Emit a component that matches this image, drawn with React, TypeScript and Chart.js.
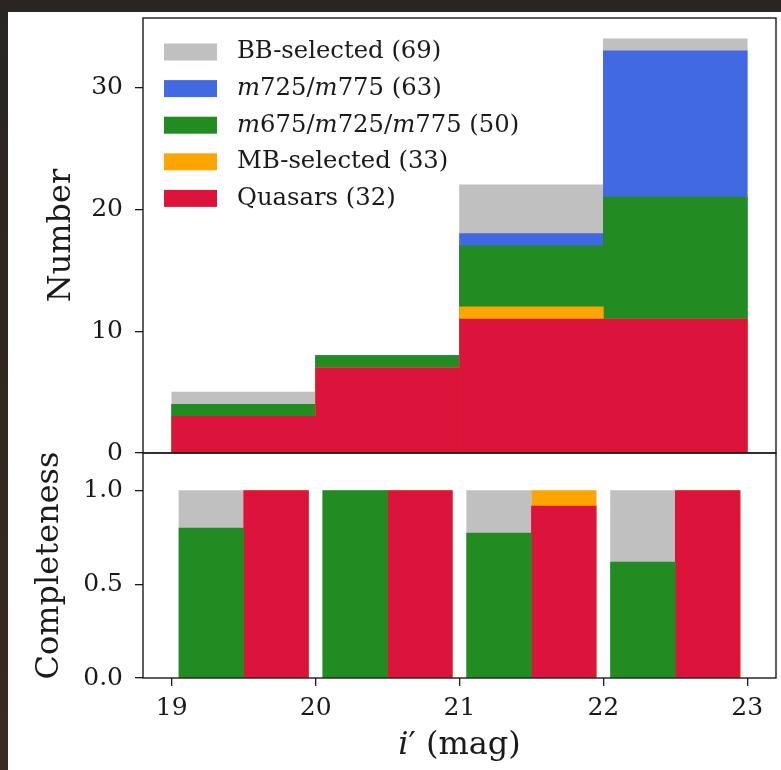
import React, { useEffect, useRef } from "react";
import { Chart, registerables } from "chart.js";

Chart.register(...registerables);

// Magnitude bins (lower edges, width 1 mag)
const binStarts = [19, 20, 21, 22];

// Counts per bin for each selection
const bbSelected = [5, 8, 22, 34];
const m725m775 = [4, 8, 18, 33];
const m675m725m775 = [4, 8, 17, 21];
const mbSelected = [3, 7, 12, 11];
const quasars = [3, 7, 11, 11];

// Completeness per bin
const bbCompleteness = [1, 1, 1, 1];
const colourCompleteness = [0.8, 1.0, 0.773, 0.618];
const mbCompleteness = [1, 1, 1, 1];
const quasarCompleteness = [1, 1, 0.917, 1];

// Axis ticks
const countTicks = [0, 10, 20, 30];
const completenessTicks = [0, 0.5, 1.0];
const magTicks = [19, 20, 21, 22, 23];

const SILVER = "#c0c0c0";
const ROYAL = "#4169e1";
const FOREST = "#228b22";
const ORANGE = "#ffa500";
const CRIMSON = "#dc143c";

const SERIF = "'DejaVu Serif', serif";
const INK = "#1a1a1a";
const TICK_SIZE = 25;
const TITLE_SIZE = 32;
const LEGEND_SIZE = 24.3;

const sum = (a: number[]) => a.reduce((s, v) => s + v, 0);

// Splits a label so that letters inside $...$ are set in italic (mathtext style)
function richPieces(text: string) {
  const parts = text.split("$");
  const pieces: { t: string; italic: boolean }[] = [];
  parts.forEach((p, i) => {
    if (i % 2 === 0) {
      if (p) pieces.push({ t: p, italic: false });
    } else {
      for (const ch of p) {
        const italic = /[A-Za-z]/.test(ch);
        const last = pieces[pieces.length - 1];
        if (last && last.italic === italic) last.t += ch;
        else pieces.push({ t: ch, italic });
      }
    }
  });
  return pieces;
}

function drawRich(
  ctx: CanvasRenderingContext2D,
  text: string,
  x: number,
  y: number,
  size: number,
  align: "left" | "center"
) {
  const pieces = richPieces(text);
  const fontFor = (it: boolean) => `${it ? "italic " : ""}${size}px ${SERIF}`;
  let total = 0;
  for (const p of pieces) {
    ctx.font = fontFor(p.italic);
    total += ctx.measureText(p.t).width;
  }
  let cx = align === "center" ? x - total / 2 : x;
  ctx.textAlign = "left";
  ctx.textBaseline = "middle";
  for (const p of pieces) {
    ctx.font = fontFor(p.italic);
    ctx.fillText(p.t, cx, y);
    cx += ctx.measureText(p.t).width;
  }
}

const framePlugin = {
  id: "frame",
  afterDatasetsDraw(chart: any) {
    const { ctx, chartArea: a } = chart;
    ctx.save();
    ctx.strokeStyle = INK;
    ctx.lineWidth = 1.4;
    ctx.strokeRect(a.left, a.top, a.right - a.left, a.bottom - a.top);
    ctx.restore();
  },
};

const legendPlugin = {
  id: "richLegend",
  afterDraw(chart: any) {
    const { ctx, chartArea: a } = chart;
    ctx.save();
    chart.data.datasets.forEach((ds: any, i: number) => {
      const cy = a.top + 34 + i * 36.6;
      ctx.fillStyle = ds.backgroundColor;
      ctx.fillRect(a.left + 21, cy - 8.5, 53, 17);
      ctx.fillStyle = INK;
      drawRich(ctx, ds.label, a.left + 94, cy, LEGEND_SIZE, "left");
    });
    ctx.restore();
  },
};

const xTitlePlugin = {
  id: "xTitle",
  afterDraw(chart: any) {
    const { ctx, chartArea: a } = chart;
    ctx.save();
    ctx.fillStyle = INK;
    drawRich(ctx, "$i$′ (mag)", (a.left + a.right) / 2, a.bottom + 68, TITLE_SIZE, "center");
    ctx.restore();
  },
};

const tickGrid = {
  drawOnChartArea: false,
  drawTicks: true,
  offset: false,
  tickLength: 8,
  color: INK,
  lineWidth: 1.3,
};

const fixWidth = (s: any) => {
  s.width = 143;
  s.paddingTop = 0;
  s.paddingBottom = 0;
};

const histSeries = [
  { name: "BB-selected", values: bbSelected, color: SILVER },
  { name: "$m725/m775$", values: m725m775, color: ROYAL },
  { name: "$m675/m725/m775$", values: m675m725m775, color: FOREST },
  { name: "MB-selected", values: mbSelected, color: ORANGE },
  { name: "Quasars", values: quasars, color: CRIMSON },
];

export default function App() {
  const topRef = useRef<HTMLCanvasElement>(null);
  const botRef = useRef<HTMLCanvasElement>(null);

  useEffect(() => {
    const top = new Chart(topRef.current!, {
      type: "bar",
      data: {
        datasets: histSeries.map((s, k) => ({
          label: `${s.name} (${sum(s.values)})`,
          data: binStarts.map((b, i) => ({ x: b + 0.5, y: s.values[i] })),
          backgroundColor: s.color,
          borderWidth: 0,
          grouped: false,
          barPercentage: 1,
          categoryPercentage: 1,
          order: histSeries.length - k,
        })),
      } as any,
      options: {
        animation: false,
        responsive: false,
        layout: { padding: { top: 18, right: 5, bottom: 7, left: 0 } },
        plugins: { legend: { display: false }, tooltip: { enabled: false } },
        scales: {
          x: {
            type: "linear",
            min: 18.8,
            max: 23.2,
            offset: false,
            display: false,
            afterBuildTicks: (s: any) => {
              s.ticks = magTicks.map((v) => ({ value: v }));
            },
          },
          y: {
            min: 0,
            max: 35.7,
            afterBuildTicks: (s: any) => {
              s.ticks = countTicks.map((v) => ({ value: v }));
            },
            afterFit: fixWidth,
            border: { display: false },
            grid: tickGrid,
            ticks: {
              font: { family: SERIF, size: TICK_SIZE },
              color: INK,
              padding: 12,
            },
            title: {
              display: true,
              text: "Number",
              font: { family: SERIF, size: TITLE_SIZE },
              color: INK,
              padding: { top: 42, bottom: 0 },
            },
          },
        },
      } as any,
      plugins: [framePlugin, legendPlugin],
    });

    const compSeries = [
      { values: colourCompleteness, color: FOREST, offset: 0.275, order: 1 },
      { values: bbCompleteness, color: SILVER, offset: 0.275, order: 2 },
      { values: quasarCompleteness, color: CRIMSON, offset: 0.725, order: 1 },
      { values: mbCompleteness, color: ORANGE, offset: 0.725, order: 2 },
    ];

    const bottom = new Chart(botRef.current!, {
      type: "bar",
      data: {
        datasets: compSeries.map((s) => ({
          data: binStarts.map((b, i) => ({ x: b + s.offset, y: s.values[i] })),
          backgroundColor: s.color,
          borderWidth: 0,
          grouped: false,
          barPercentage: 1,
          categoryPercentage: 1,
          order: s.order,
        })),
      } as any,
      options: {
        animation: false,
        responsive: false,
        layout: { padding: { top: 13, right: 5, bottom: 0, left: 0 } },
        plugins: { legend: { display: false }, tooltip: { enabled: false } },
        scales: {
          x: {
            type: "linear",
            min: 18.8,
            max: 23.2,
            offset: false,
            afterBuildTicks: (s: any) => {
              s.ticks = magTicks.map((v) => ({ value: v }));
            },
            afterFit: (s: any) => {
              s.height = 92;
              s.paddingLeft = 0;
              s.paddingRight = 0;
            },
            border: { display: false },
            grid: tickGrid,
            ticks: {
              font: { family: SERIF, size: TICK_SIZE },
              color: INK,
              padding: 7,
              maxRotation: 0,
            },
          },
          y: {
            min: 0,
            max: 1.2,
            afterBuildTicks: (s: any) => {
              s.ticks = completenessTicks.map((v) => ({ value: v }));
            },
            afterFit: fixWidth,
            border: { display: false },
            grid: tickGrid,
            ticks: {
              font: { family: SERIF, size: TICK_SIZE },
              color: INK,
              padding: 12,
              callback: (v: number) => v.toFixed(1),
            },
            title: {
              display: true,
              text: "Completeness",
              font: { family: SERIF, size: TITLE_SIZE },
              color: INK,
              padding: { top: 30, bottom: 0 },
            },
          },
        },
      } as any,
      plugins: [framePlugin, xTitlePlugin],
    });

    return () => {
      top.destroy();
      bottom.destroy();
    };
  }, []);

  return (
    <div
      style={{
        position: "fixed",
        inset: 0,
        background: "linear-gradient(180deg, #2a2523 0%, #33281f 60%, #3b2a21 100%)",
        overflow: "hidden",
      }}
    >
      <div
        style={{
          position: "absolute",
          left: 8,
          top: 12,
          right: 0,
          bottom: 0,
          background: "#ffffff",
        }}
      />
      <canvas
        ref={topRef}
        width={781}
        height={460}
        style={{ position: "absolute", left: 0, top: 0, width: 781, height: 460 }}
      />
      <canvas
        ref={botRef}
        width={781}
        height={330}
        style={{ position: "absolute", left: 0, top: 440, width: 781, height: 330 }}
      />
    </div>
  );
}
